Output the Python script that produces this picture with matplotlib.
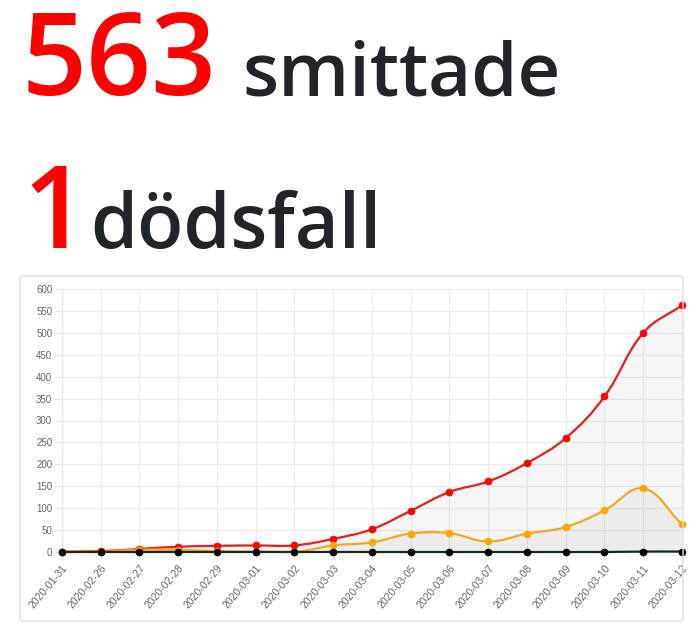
import matplotlib
matplotlib.use('Agg')
import matplotlib.pyplot as plt
from matplotlib.path import Path
from matplotlib.patches import PathPatch, FancyBboxPatch
import numpy as np

dates = ['2020-01-31', '2020-02-26', '2020-02-27', '2020-02-28', '2020-02-29',
         '2020-03-01', '2020-03-02', '2020-03-03', '2020-03-04', '2020-03-05',
         '2020-03-06', '2020-03-07', '2020-03-08', '2020-03-09', '2020-03-10',
         '2020-03-11', '2020-03-12']
smittade = [1, 2, 7, 12, 14, 15, 15, 30, 52, 94, 137, 161, 203, 260, 355, 500, 563]
nya = [1, 1, 5, 5, 2, 1, 0, 15, 22, 42, 43, 24, 42, 57, 95, 145, 63]
dodsfall = [0, 0, 0, 0, 0, 0, 0, 0, 0, 0, 0, 0, 0, 0, 0, 1, 1]

# approx pixel scale of the axes, used for the spline like chart.js
PX_X = 38.8
PX_Y = 0.4377


def spline_path(vals, tension=0.4, ymax=600):
    n = len(vals)
    pts = np.array([[i * PX_X, v * PX_Y] for i, v in enumerate(vals)])
    cps_prev = []
    cps_next = []
    for i in range(n):
        prev = pts[max(i - 1, 0)]
        cur = pts[i]
        nxt = pts[min(i + 1, n - 1)]
        d01 = np.hypot(*(cur - prev))
        d12 = np.hypot(*(nxt - cur))
        tot = d01 + d12
        s01 = d01 / tot if tot else 0
        s12 = d12 / tot if tot else 0
        cp = cur - tension * s01 * (nxt - prev)
        cn = cur + tension * s12 * (nxt - prev)
        # cap to chart area
        top = ymax * PX_Y
        cp[1] = min(max(cp[1], 0), top)
        cn[1] = min(max(cn[1], 0), top)
        cps_prev.append(cp)
        cps_next.append(cn)
    verts = [pts[0]]
    codes = [Path.MOVETO]
    for i in range(n - 1):
        verts += [cps_next[i], cps_prev[i + 1], pts[i + 1]]
        codes += [Path.CURVE4] * 3
    verts = np.array(verts)
    verts[:, 0] /= PX_X
    verts[:, 1] /= PX_Y
    return verts, codes


fig = plt.figure(figsize=(7, 6.3), dpi=100)

# header texts
hfont = 'Open Sans'
fig.text(22 / 700, 1 - 95 / 630, '563', color='#ff0000', fontsize=82,
         family=hfont, weight='semibold', va='baseline', ha='left')
fig.text(243 / 700, 1 - 95 / 630, 'smittade', color='#212529', fontsize=53.5,
         family=hfont, weight='semibold', va='baseline', ha='left')
fig.text(22 / 700, 1 - 248 / 630, '1', color='#ff0000', fontsize=82,
         family=hfont, weight='semibold', va='baseline', ha='left')
fig.text(90 / 700, 1 - 248 / 630, 'dödsfall', color='#212529', fontsize=54.5,
         family=hfont, weight='semibold', va='baseline', ha='left')

# card border
card = FancyBboxPatch((20 / 700, 1 - 621 / 630), 663 / 700, 345 / 630,
                      boxstyle='round,pad=0,rounding_size=0.004',
                      transform=fig.transFigure, facecolor='none',
                      edgecolor='#dfdfdf', linewidth=1)
fig.patches.append(card)

ax = fig.add_axes([62 / 700, 1 - 552 / 630, 620 / 700, 263 / 630])
ax.set_xlim(0, len(dates) - 1)
ax.set_ylim(0, 600)

series = [
    (smittade, '#ee1c1c', '#ff0000'),
    (nya, '#f5a623', '#ffa500'),
    (dodsfall, '#1a2a1a', '#000000'),
]
x = np.arange(len(dates))
for z, (vals, lc, mc) in enumerate(series):
    verts, codes = spline_path(vals)
    fill_verts = np.vstack([verts, [[len(vals) - 1, 0], [0, 0], verts[0]]])
    fill_codes = codes + [Path.LINETO, Path.LINETO, Path.CLOSEPOLY]
    ax.add_patch(PathPatch(Path(fill_verts, fill_codes), facecolor=(0, 0, 0, 0.035),
                           edgecolor='none', zorder=2 + z))
    ax.add_patch(PathPatch(Path(verts, codes), facecolor='none', edgecolor=lc,
                           linewidth=1.6, zorder=5 + z, clip_on=False))
    ax.plot(x, vals, 'o', color=mc, markersize=5, markeredgecolor=mc,
            markeredgewidth=0.5, zorder=8 + z, clip_on=False)

ax.set_yticks(range(0, 601, 50))
ax.set_xticks(x)
ax.set_xticklabels(dates, rotation=50, ha='right', rotation_mode='anchor')
ax.tick_params(axis='both', colors='#e6e6e6', labelcolor='#666666',
               labelsize=7, length=5, width=0.8)
ax.tick_params(axis='x', labelsize=7.5, pad=3)
ax.tick_params(axis='y', pad=2)
for lab in ax.get_xticklabels() + ax.get_yticklabels():
    lab.set_family('Liberation Sans')
ax.grid(True, color='#ececec', linewidth=0.8)
ax.set_axisbelow(True)
for s in ax.spines.values():
    s.set_visible(False)
ax.spines['left'].set_visible(True)
ax.spines['left'].set_color('#e6e6e6')
ax.spines['bottom'].set_visible(True)
ax.spines['bottom'].set_color('#e6e6e6')

fig.savefig('out.png', dpi=100)
